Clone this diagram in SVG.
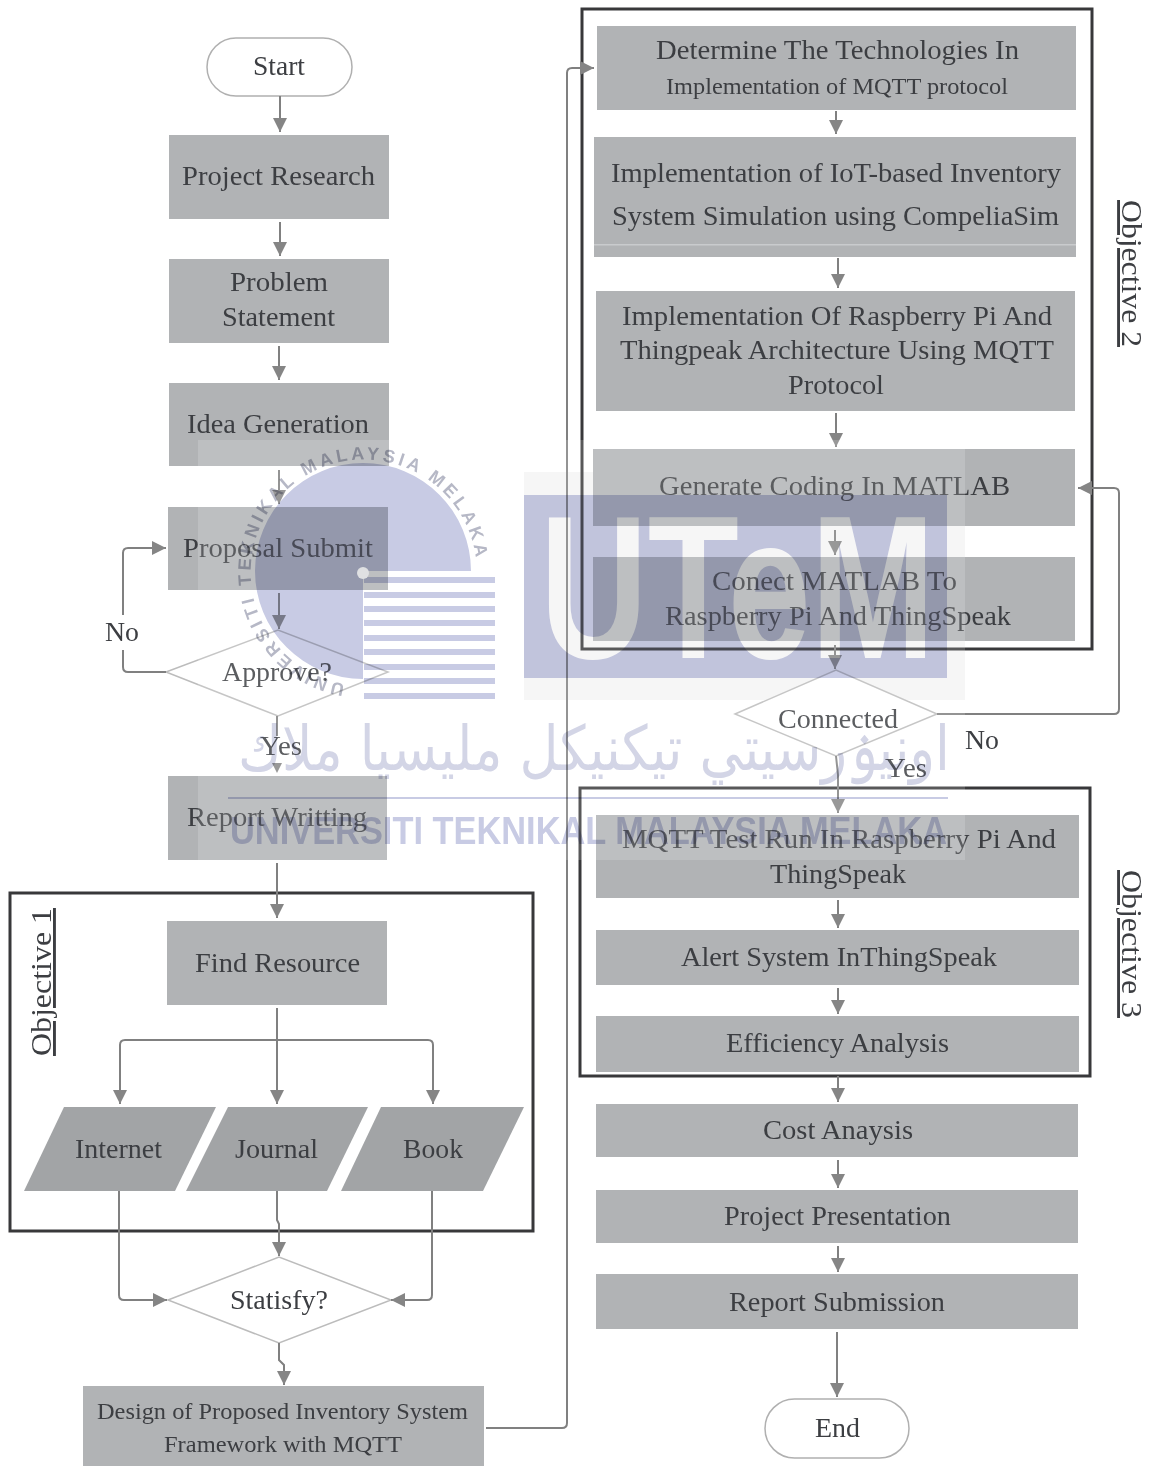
<svg xmlns="http://www.w3.org/2000/svg" width="1153" height="1466" viewBox="0 0 1153 1466">
<style>
text{font-family:"Liberation Serif","Times New Roman",serif;font-size:28px;fill:#3c3e42}
.s{font-size:24px}
.b{fill:#b1b3b5}
.p{fill:#a2a4a6}
.d{fill:#fff;stroke:#bcbcbc;stroke-width:1.5}
.t{fill:#fff;stroke:#b0b0b0;stroke-width:1.5}
.f{fill:none;stroke:#38383a;stroke-width:3}
.c{fill:none;stroke:#808080;stroke-width:2}
.o{font-size:29px;text-decoration:underline}
.wm{mix-blend-mode:multiply}
.wt{font-family:"Liberation Sans",Arial,sans-serif;font-weight:bold;fill:#c8cbe4}
</style>
<defs>
<marker id="a" markerUnits="userSpaceOnUse" markerWidth="16" markerHeight="16" refX="14" refY="7" orient="auto"><path d="M0 0L14 7L0 14Z" fill="#858585"/></marker>
</defs>
<rect width="1153" height="1466" fill="#fff"/>
<rect x="524" y="472" width="441" height="228" fill="#f5f5f5"/>

<g id="frames">
<rect class="f" x="10" y="893" width="523" height="338"/>
<rect class="f" x="582" y="9" width="510" height="640"/>
<rect class="f" x="580" y="788" width="510" height="288"/>
</g>

<g id="n-start"><rect class="t" x="207" y="38" width="145" height="58" rx="29"/><text x="253" y="75" textLength="52" lengthAdjust="spacingAndGlyphs">Start</text></g>
<g id="n-research"><rect class="b" x="169" y="135" width="220" height="84"/><text x="182" y="185" textLength="193" lengthAdjust="spacingAndGlyphs">Project Research</text></g>
<g id="n-problem"><rect class="b" x="169" y="259" width="220" height="84"/><text x="230" y="291" textLength="98" lengthAdjust="spacingAndGlyphs">Problem</text><text x="222" y="326" textLength="113" lengthAdjust="spacingAndGlyphs">Statement</text></g>
<g id="n-idea"><rect class="b" x="169" y="383" width="220" height="83"/><text x="187" y="433" textLength="182" lengthAdjust="spacingAndGlyphs">Idea Generation</text></g>
<g id="n-proposal"><rect class="b" x="168" y="507" width="220" height="83"/><text x="183" y="557" textLength="190" lengthAdjust="spacingAndGlyphs">Proposal Submit</text></g>
<g id="n-approve"><polygon class="d" points="166,672 278,630 388,672 278,716"/><text x="222" y="681" textLength="110" lengthAdjust="spacingAndGlyphs">Approve?</text></g>
<g id="n-report"><rect class="b" x="168" y="776" width="219" height="84"/><text x="187" y="826" textLength="180" lengthAdjust="spacingAndGlyphs">Report Writting</text></g>
<g id="n-find"><rect class="b" x="167" y="921" width="220" height="84"/><text x="195" y="972" textLength="165" lengthAdjust="spacingAndGlyphs">Find Resource</text></g>
<g id="n-internet"><polygon class="p" points="64,1107 216,1107 175,1191 24,1191"/><text x="75" y="1158" textLength="87" lengthAdjust="spacingAndGlyphs">Internet</text></g>
<g id="n-journal"><polygon class="p" points="228,1107 368,1107 327,1191 186,1191"/><text x="235" y="1158" textLength="83" lengthAdjust="spacingAndGlyphs">Journal</text></g>
<g id="n-book"><polygon class="p" points="381,1107 524,1107 483,1191 341,1191"/><text x="403" y="1158" textLength="60" lengthAdjust="spacingAndGlyphs">Book</text></g>
<g id="n-satisfy"><polygon class="d" points="168,1300 279,1257 391,1300 279,1343"/><text x="230" y="1309" textLength="98" lengthAdjust="spacingAndGlyphs">Statisfy?</text></g>
<g id="n-design"><rect class="b" x="83" y="1386" width="401" height="80"/><text class="s" x="97" y="1419" textLength="371" lengthAdjust="spacingAndGlyphs">Design of Proposed Inventory System</text><text class="s" x="164" y="1452" textLength="238" lengthAdjust="spacingAndGlyphs">Framework with MQTT</text></g>

<g id="n-determine"><rect class="b" x="597" y="26" width="479" height="84"/><text x="656" y="59" textLength="363" lengthAdjust="spacingAndGlyphs">Determine The Technologies In</text><text class="s" x="666" y="94" textLength="342" lengthAdjust="spacingAndGlyphs">Implementation of MQTT protocol</text></g>
<g id="n-iot"><rect class="b" x="594" y="137" width="482" height="120"/><rect x="594" y="244" width="482" height="1.5" fill="#c9cbcd"/><text x="611" y="182" textLength="450" lengthAdjust="spacingAndGlyphs">Implementation of IoT-based Inventory</text><text x="612" y="225" textLength="447" lengthAdjust="spacingAndGlyphs">System Simulation using CompeliaSim</text></g>
<g id="n-raspberry"><rect class="b" x="596" y="291" width="479" height="120"/><text x="622" y="325" textLength="430" lengthAdjust="spacingAndGlyphs">Implementation Of Raspberry Pi And</text><text x="620" y="359" textLength="434" lengthAdjust="spacingAndGlyphs">Thingpeak Architecture Using MQTT</text><text x="788" y="394" textLength="96" lengthAdjust="spacingAndGlyphs">Protocol</text></g>
<g id="n-generate"><rect class="b" x="593" y="449" width="482" height="77"/><text x="659" y="495" textLength="351" lengthAdjust="spacingAndGlyphs">Generate Coding In MATLAB</text></g>
<g id="n-conect"><rect class="b" x="593" y="557" width="482" height="84"/><text x="712" y="590" textLength="245" lengthAdjust="spacingAndGlyphs">Conect MATLAB To</text><text x="665" y="625" textLength="346" lengthAdjust="spacingAndGlyphs">Raspberry Pi And ThingSpeak</text></g>
<g id="n-connected"><polygon class="d" points="735,714 836,670 937,714 836,756"/><text x="778" y="728" textLength="120" lengthAdjust="spacingAndGlyphs">Connected</text></g>
<g id="n-mqtt"><rect class="b" x="596" y="815" width="483" height="83"/><text x="622" y="848" textLength="434" lengthAdjust="spacingAndGlyphs">MQTT Test Run In Raspberry Pi And</text><text x="770" y="883" textLength="136" lengthAdjust="spacingAndGlyphs">ThingSpeak</text></g>
<g id="n-alert"><rect class="b" x="596" y="930" width="483" height="55"/><text x="681" y="966" textLength="316" lengthAdjust="spacingAndGlyphs">Alert System InThingSpeak</text></g>
<g id="n-efficiency"><rect class="b" x="596" y="1016" width="483" height="56"/><text x="726" y="1052" textLength="223" lengthAdjust="spacingAndGlyphs">Efficiency Analysis</text></g>
<g id="n-cost"><rect class="b" x="596" y="1104" width="482" height="53"/><text x="763" y="1139" textLength="150" lengthAdjust="spacingAndGlyphs">Cost Anaysis</text></g>
<g id="n-presentation"><rect class="b" x="596" y="1190" width="482" height="53"/><text x="724" y="1225" textLength="227" lengthAdjust="spacingAndGlyphs">Project Presentation</text></g>
<g id="n-submission"><rect class="b" x="596" y="1274" width="482" height="55"/><text x="729" y="1311" textLength="216" lengthAdjust="spacingAndGlyphs">Report Submission</text></g>
<g id="n-end"><rect class="t" x="765" y="1399" width="144" height="59" rx="29.5"/><text x="815" y="1437" textLength="45" lengthAdjust="spacingAndGlyphs">End</text></g>

<g id="connectors">
<path class="c" marker-end="url(#a)" d="M280 96V132"/>
<path class="c" marker-end="url(#a)" d="M280 222V256"/>
<path class="c" marker-end="url(#a)" d="M279 346V380"/>
<path class="c" marker-end="url(#a)" d="M279 470V504"/>
<path class="c" marker-end="url(#a)" d="M279 593V629"/>
<path class="c" d="M166 672H128Q123 672 123 667V650"/>
<path class="c" marker-end="url(#a)" d="M123 615V553Q123 548 128 548H166"/>
<path class="c" d="M277 716V736"/>
<polygon points="272,763 282,763 277,773" fill="#858585"/>
<path class="c" marker-end="url(#a)" d="M277 863V918"/>
<path class="c" marker-end="url(#a)" d="M277 1008V1104"/>
<path class="c" marker-end="url(#a)" d="M277 1040H125Q120 1040 120 1045V1104"/>
<path class="c" marker-end="url(#a)" d="M277 1040H428Q433 1040 433 1045V1104"/>
<path class="c" marker-end="url(#a)" d="M119 1191V1295Q119 1300 124 1300H167"/>
<path class="c" marker-end="url(#a)" d="M432 1191V1295Q432 1300 427 1300H391"/>
<path class="c" marker-end="url(#a)" d="M277 1191V1220L279 1224V1256"/>
<path class="c" marker-end="url(#a)" d="M279 1343V1360L284 1365V1385"/>
<path class="c" marker-end="url(#a)" d="M486 1428H562Q567 1428 567 1423V73Q567 68 572 68H594"/>
<path class="c" marker-end="url(#a)" d="M836 111V134"/>
<path class="c" marker-end="url(#a)" d="M838 258V288"/>
<path class="c" marker-end="url(#a)" d="M836 413V447"/>
<path class="c" marker-end="url(#a)" d="M835 530V555"/>
<path class="c" marker-end="url(#a)" d="M835 645V669"/>
<path class="c" marker-end="url(#a)" d="M836 756L838 775V813"/>
<path class="c" marker-end="url(#a)" d="M937 714H1114Q1119 714 1119 709V493Q1119 488 1114 488H1078"/>
<path class="c" marker-end="url(#a)" d="M838 900V928"/>
<path class="c" marker-end="url(#a)" d="M838 988V1014"/>
<path class="c" marker-end="url(#a)" d="M838 1076V1102"/>
<path class="c" marker-end="url(#a)" d="M838 1160V1188"/>
<path class="c" marker-end="url(#a)" d="M838 1246V1272"/>
<path class="c" marker-end="url(#a)" d="M837 1332V1397"/>
</g>

<g id="labels">
<text x="105" y="641" textLength="34" lengthAdjust="spacingAndGlyphs">No</text>
<text x="260" y="755" textLength="42" lengthAdjust="spacingAndGlyphs">Yes</text>
<text x="965" y="749" textLength="34" lengthAdjust="spacingAndGlyphs">No</text>
<text x="885" y="777" textLength="42" lengthAdjust="spacingAndGlyphs">Yes</text>
<text class="o" transform="translate(51 1056) rotate(-90)" textLength="148" lengthAdjust="spacingAndGlyphs">Objective 1</text>
<text class="o" transform="translate(1122 200) rotate(90)" textLength="147" lengthAdjust="spacingAndGlyphs">Objective 2</text>
<text class="o" transform="translate(1122 870) rotate(90)" textLength="148" lengthAdjust="spacingAndGlyphs">Objective 3</text>
</g>

<rect id="veil" x="198" y="440" width="767" height="420" fill="#fff" opacity="0.16"/>

<g id="watermark">
<g class="wm">
<rect x="524" y="495" width="423" height="183" fill="#c8cbe4"/>
<text class="wt" x="540" y="658" textLength="395" lengthAdjust="spacingAndGlyphs" style="fill:#fff;font-size:205px">UTeM</text>
</g>
<g class="wm" fill="#c8cbe4">
<path d="M471 571A108 108 0 1 0 363 679V571Z"/>
<rect x="364" y="577" width="131" height="6"/><rect x="364" y="592" width="131" height="6"/><rect x="364" y="606" width="131" height="6"/><rect x="364" y="620" width="131" height="6"/><rect x="364" y="635" width="131" height="6"/><rect x="364" y="649" width="131" height="6"/><rect x="364" y="664" width="131" height="6"/><rect x="364" y="678" width="131" height="6"/><rect x="364" y="693" width="131" height="6"/>
<rect x="228" y="797" width="720" height="2"/>
</g>
<circle cx="363" cy="573" r="6" fill="#dfe0e2"/>
<path id="ring" fill="none" d="M345 684A113 113 0 1 1 475 553"/>
<text class="wt wm" style="font-size:18px;fill:#b6b8c6"><textPath href="#ring" textLength="498">UNIVERSITI TEKNIKAL MALAYSIA MELAKA</textPath></text>
<text class="wt wm" x="230" y="844" textLength="717" lengthAdjust="spacingAndGlyphs" style="font-size:39px">UNIVERSITI TEKNIKAL MALAYSIA MELAKA</text>
<text class="wm" x="950" y="770" direction="rtl" textLength="712" lengthAdjust="spacingAndGlyphs" style="font-family:'DejaVu Sans',sans-serif;font-size:62px;fill:#d3d5e6">اونيۏرسيتي تيكنيكل مليسيا ملاك</text>
</g>
</svg>
